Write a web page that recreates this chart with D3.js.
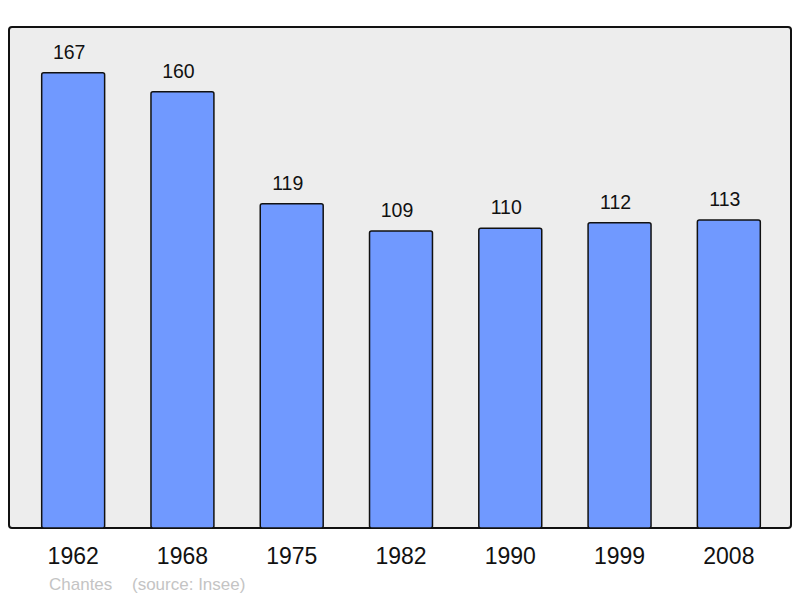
<!DOCTYPE html>
<html>
<head>
<meta charset="utf-8">
<script src="https://cdn.jsdelivr.net/npm/d3@7"></script>
<style>
  body { margin: 0; background: #fff; }
  text { font-family: "Liberation Sans", Arial, sans-serif; }
</style>
</head>
<body>
<svg width="800" height="598"></svg>
<script>
// Chart data
const years = ["1962", "1968", "1975", "1982", "1990", "1999", "2008"];
const population = [167, 160, 119, 109, 110, 112, 113];
const footerLabels = ["Chantes", "(source: Insee)"];

const svg = d3.select("svg");
const frame = { left: 9, top: 27, right: 791, bottom: 528 };

// Plot frame
svg.append("rect")
    .attr("x", frame.left)
    .attr("y", frame.top)
    .attr("width", frame.right - frame.left)
    .attr("height", frame.bottom - frame.top)
    .attr("rx", 3)
    .attr("fill", "#ededed")
    .attr("stroke", "#111")
    .attr("stroke-width", 2);

const x = d3.scaleBand()
    .domain(years)
    .range([frame.left + 1, frame.right + 1])
    .paddingInner(0.424)
    .paddingOuter(0.29);

const y = d3.scaleLinear()
    .domain([0, 183.8])
    .range([frame.bottom, frame.top]);

const data = years.map((year, i) => ({ year, value: population[i] }));

// Bars
svg.append("g").selectAll("rect")
    .data(data)
    .join("rect")
    .attr("x", d => x(d.year))
    .attr("y", d => y(d.value))
    .attr("width", x.bandwidth())
    .attr("height", d => y(0) - y(d.value))
    .attr("rx", 2)
    .attr("fill", "#7099ff")
    .attr("stroke", "#111")
    .attr("stroke-width", 1.5);

// Value labels
svg.append("g").selectAll("text")
    .data(data)
    .join("text")
    .attr("x", d => x(d.year) + x.bandwidth() / 2 - 4)
    .attr("y", d => y(d.value) - 14)
    .attr("text-anchor", "middle")
    .attr("font-size", 19.5)
    .attr("fill", "#111")
    .text(d => d.value);

// Year axis
const xAxis = svg.append("g")
    .attr("transform", `translate(0, ${frame.bottom})`)
    .call(d3.axisBottom(x).tickSize(0).tickPadding(0));
xAxis.select(".domain").remove();
xAxis.selectAll("text")
    .attr("dy", null)
    .attr("y", 36)
    .attr("font-size", 23)
    .attr("font-family", "Liberation Sans, Arial, sans-serif")
    .attr("fill", "#111");

// Footer
svg.append("text")
    .attr("x", 49).attr("y", 590)
    .attr("font-size", 17).attr("fill", "#c4c4c4")
    .text(footerLabels[0]);
svg.append("text")
    .attr("x", 132).attr("y", 590)
    .attr("font-size", 17).attr("fill", "#c4c4c4")
    .text(footerLabels[1]);
</script>
</body>
</html>
